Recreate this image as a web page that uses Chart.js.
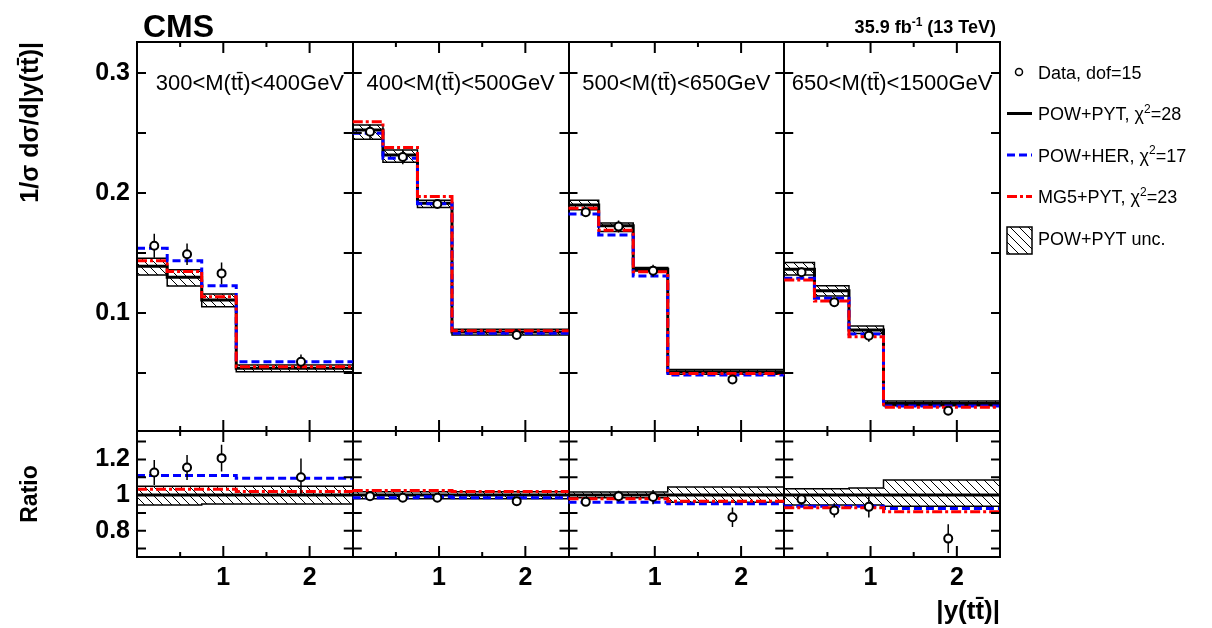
<!DOCTYPE html>
<html>
<head>
<meta charset="utf-8">
<title>CMS normalised |y(tt)| in M(tt) bins</title>
<script src="https://cdn.jsdelivr.net/npm/chart.js@4.4.1/dist/chart.umd.min.js"></script>
<style>
  html, body { margin: 0; padding: 0; background: #fff; }
  #wrap { width: 1212px; height: 628px; }
</style>
</head>
<body>
<div id="wrap"><canvas id="yttChart" width="1212" height="628"></canvas></div>
<script>
const FONT = "'Liberation Sans', Arial, Helvetica, sans-serif";

// M(tt) panels, each one has 4 bins in |y(tt)|
const massBins = ['300<M(tt\u0304)<400GeV', '400<M(tt\u0304)<500GeV', '500<M(tt\u0304)<650GeV', '650<M(tt\u0304)<1500GeV'];
const binEdges = [0, 0.35, 0.75, 1.15, 2.5];
const dataX = [0.2, 0.58, 0.98, 1.9];
const panelSpan = 2.5;

// upper pad: 1/sigma dsigma/d|y(tt)|, 16 values = 4 panels x 4 bins
const dataVal = [0.156, 0.149, 0.133, 0.0594, 0.251, 0.230, 0.1908, 0.0817, 0.184, 0.172, 0.1353, 0.0447, 0.134, 0.109, 0.081, 0.0186];
const dataErr = [0.010, 0.009, 0.009, 0.006, 0.006, 0.006, 0.003, 0.002, 0.004, 0.005, 0.005, 0.003, 0.004, 0.004, 0.005, 0.002];
const powPyt = [0.139, 0.1297, 0.1108, 0.0539, 0.2525, 0.2317, 0.1914, 0.0842, 0.190, 0.1728, 0.1364, 0.051, 0.1364, 0.1186, 0.0858, 0.0247];
const powHer = [0.154, 0.1436, 0.1228, 0.0594, 0.2497, 0.2289, 0.191, 0.0831, 0.1825, 0.165, 0.1308, 0.0483, 0.129, 0.1122, 0.0825, 0.0225];
const mg5Pyt = [0.1436, 0.1345, 0.1136, 0.0553, 0.2594, 0.238, 0.197, 0.0853, 0.1872, 0.169, 0.1344, 0.0497, 0.1275, 0.110, 0.0803, 0.0214];
const uncUp = [0.1456, 0.136, 0.1158, 0.0567, 0.2567, 0.2358, 0.194, 0.0864, 0.194, 0.175, 0.138, 0.053, 0.142, 0.1228, 0.0892, 0.0267];
const uncDown = [0.1317, 0.1225, 0.1053, 0.0511, 0.2447, 0.2256, 0.188, 0.0817, 0.186, 0.168, 0.135, 0.049, 0.1317, 0.1142, 0.083, 0.0228];

// lower pad: ratio to POW+PYT
const ratioData = [1.126, 1.154, 1.207, 1.10, 0.994, 0.985, 0.985, 0.966, 0.962, 0.994, 0.989, 0.876, 0.976, 0.914, 0.934, 0.756];
const ratioErr = [0.07, 0.07, 0.075, 0.105, 0.015, 0.02, 0.012, 0.02, 0.015, 0.03, 0.04, 0.055, 0.03, 0.04, 0.06, 0.08];
const ratioPowPyt = [1, 1, 1, 1, 1, 1, 1, 1, 1, 1, 1, 1, 1, 1, 1, 1];
const ratioPowHer = [1.11, 1.11, 1.11, 1.094, 0.985, 0.985, 0.99, 0.985, 0.96, 0.96, 0.96, 0.951, 0.938, 0.938, 0.938, 0.925];
const ratioMg5Pyt = [1.032, 1.032, 1.032, 1.02, 1.026, 1.026, 1.026, 1.02, 0.98, 0.98, 0.98, 0.966, 0.929, 0.929, 0.929, 0.906];
const ratioUncUp = [1.05, 1.05, 1.05, 1.05, 1.018, 1.018, 1.018, 1.018, 1.017, 1.017, 1.017, 1.045, 1.035, 1.035, 1.04, 1.085];
const ratioUncDown = [0.944, 0.944, 0.95, 0.95, 0.98, 0.98, 0.98, 0.98, 0.985, 0.985, 0.985, 0.96, 0.944, 0.944, 0.944, 0.938];

const xTicks = [1, 2, 2.5, 3.5, 4.5, 5, 6, 7, 7.5, 8.5, 9.5];
const yTicks = [0.1, 0.2, 0.3];
const ratioTicks = [0.8, 1, 1.2];

const legendRows = [
  {kind: 'data', text: 'Data, dof=15'},
  {kind: 'line', color: '#000', dash: [], text: 'POW+PYT, \u03c7', sup: '2', after: '=28'},
  {kind: 'line', color: '#0000ff', dash: [8, 4], text: 'POW+HER, \u03c7', sup: '2', after: '=17'},
  {kind: 'line', color: '#ff0000', dash: [10, 3, 3, 3], text: 'MG5+PYT, \u03c7', sup: '2', after: '=23'},
  {kind: 'band', text: 'POW+PYT unc.'}
];

// hatch pattern for the POW+PYT uncertainty band
function makeHatch() {
  const c = document.createElement('canvas');
  c.width = 9; c.height = 9;
  const g = c.getContext('2d');
  g.strokeStyle = '#000';
  g.lineWidth = 1;
  g.beginPath();
  g.moveTo(0, 0); g.lineTo(9, 9);
  g.moveTo(-1, 8); g.lineTo(1, 10);
  g.moveTo(8, -1); g.lineTo(10, 1);
  g.stroke();
  return document.getElementById('yttChart').getContext('2d').createPattern(c, 'repeat');
}
const hatch = makeHatch();

function steps(values) {
  const pts = [];
  for (let p = 0; p < 4; p++) {
    const off = p * panelSpan;
    for (let i = 0; i < 4; i++) pts.push({x: off + binEdges[i], y: values[p * 4 + i]});
    pts.push({x: off + binEdges[4], y: values[p * 4 + 3]});
    pts.push({x: off + binEdges[4], y: null});
  }
  return pts;
}

function markers(values) {
  const pts = [];
  for (let p = 0; p < 4; p++) {
    for (let i = 0; i < 4; i++) pts.push({x: p * panelSpan + dataX[i], y: values[p * 4 + i]});
  }
  return pts;
}

function errorBars(values, errs) {
  const pts = [];
  for (let p = 0; p < 4; p++) {
    for (let i = 0; i < 4; i++) {
      const x = p * panelSpan + dataX[i];
      const v = values[p * 4 + i], e = errs[p * 4 + i];
      pts.push({x: x, y: v - e}, {x: x, y: v + e}, {x: x, y: null});
    }
  }
  return pts;
}

function stepSet(label, values, axis, color, width, dash, order) {
  return {
    label: label, data: steps(values), yAxisID: axis,
    borderColor: color, borderWidth: width, borderDash: dash,
    backgroundColor: 'transparent', stepped: true, fill: false,
    pointRadius: 0, spanGaps: false, order: order
  };
}

function padDatasets(axis, up, down, nominal, her, mg5, vals, errs) {
  return [
    stepSet('unc up', up, axis, '#000', 1.5, [], 6),
    Object.assign(stepSet('unc down', down, axis, '#000', 1.5, [], 5), {fill: '-1', backgroundColor: hatch}),
    stepSet('POW+PYT', nominal, axis, '#000', 3, [], 4),
    stepSet('POW+HER', her, axis, '#0000ff', 3, [8, 4], 3),
    stepSet('MG5+PYT', mg5, axis, '#ff0000', 3, [10, 3, 3, 3], 2),
    {
      label: 'Data err', data: errorBars(vals, errs), yAxisID: axis,
      borderColor: '#000', borderWidth: 1.5, pointRadius: 0, spanGaps: false,
      fill: false, order: 1
    },
    {
      label: 'Data', data: markers(vals), yAxisID: axis, showLine: false,
      pointRadius: 4, pointBorderWidth: 2, pointBorderColor: '#000',
      pointBackgroundColor: '#fff', order: 0
    }
  ];
}

function drawSup(ctx, x, y, parts) {
  // parts: [text, font, dy]
  let cx = x;
  parts.forEach(function(pt) {
    ctx.font = pt[1];
    ctx.fillText(pt[0], cx, y + pt[2]);
    cx += ctx.measureText(pt[0]).width;
  });
  return cx;
}

const cmsDecor = {
  id: 'cmsDecor',
  afterDatasetsDraw(chart) {
    const {ctx, chartArea: a, scales: {x, y, yr}} = chart;
    ctx.save();
    ctx.strokeStyle = '#000';
    ctx.lineWidth = 2;
    const pads = [
      {s: y, top: y.top, bottom: y.bottom, from: 0.05, to: 0.3, step: 0.05},
      {s: yr, top: yr.top, bottom: yr.bottom, from: 0.7, to: 1.3, step: 0.1}
    ];
    for (let p = 0; p < 4; p++) {
      const left = x.getPixelForValue(p * panelSpan);
      const right = x.getPixelForValue((p + 1) * panelSpan);
      pads.forEach(function(pad) {
        ctx.beginPath();
        for (let k = 1; k <= 4; k++) {
          const px = x.getPixelForValue(p * panelSpan + k * 0.5);
          const len = k % 2 === 0 ? 11 : 5;
          ctx.moveTo(px, pad.top); ctx.lineTo(px, pad.top + len);
          ctx.moveTo(px, pad.bottom); ctx.lineTo(px, pad.bottom - len);
        }
        for (let v = pad.from; v <= pad.to + 1e-9; v += pad.step) {
          const py = pad.s.getPixelForValue(v);
          ctx.moveTo(left, py); ctx.lineTo(left + 9, py);
          ctx.moveTo(right, py); ctx.lineTo(right - 9, py);
        }
        ctx.stroke();
      });
    }
    ctx.strokeRect(a.left, a.top, a.right - a.left, a.bottom - a.top);
    ctx.beginPath();
    ctx.moveTo(a.left, yr.top); ctx.lineTo(a.right, yr.top);
    ctx.stroke();

    // mass bin labels
    ctx.fillStyle = '#000';
    ctx.font = '22px ' + FONT;
    ctx.textAlign = 'center';
    ctx.textBaseline = 'alphabetic';
    massBins.forEach(function(lbl, p) {
      ctx.fillText(lbl, x.getPixelForValue(p * panelSpan + 1.25) + (p === 0 ? 5 : 0), a.top + 48);
    });
    ctx.restore();
  },
  afterDraw(chart) {
    const {ctx, chartArea: a} = chart;
    ctx.save();
    ctx.fillStyle = '#000';
    ctx.textAlign = 'left';
    ctx.textBaseline = 'alphabetic';
    ctx.font = 'bold 32px ' + FONT;
    ctx.fillText('CMS', a.left + 6, 37);

    // lumi label, right aligned
    const lumi = [['35.9 fb', 'bold 18px ' + FONT, 0], ['-1', 'bold 12px ' + FONT, -7], [' (13 TeV)', 'bold 18px ' + FONT, 0]];
    let w = 0;
    lumi.forEach(function(pt) { ctx.font = pt[1]; w += ctx.measureText(pt[0]).width; });
    drawSup(ctx, a.right - 4 - w, 33, lumi);

    // legend
    const lx = a.right + 7, tx = a.right + 38;
    legendRows.forEach(function(row, i) {
      const cy = 74 + i * 41.5;
      ctx.strokeStyle = '#000';
      if (row.kind === 'data') {
        ctx.lineWidth = 1.5;
        ctx.fillStyle = '#fff';
        ctx.beginPath(); ctx.arc(lx + 12, cy - 2, 3.5, 0, Math.PI * 2);
        ctx.fill(); ctx.stroke();
      } else if (row.kind === 'line') {
        ctx.lineWidth = 3;
        ctx.strokeStyle = row.color;
        ctx.setLineDash(row.dash);
        ctx.beginPath(); ctx.moveTo(lx, cy - 2); ctx.lineTo(lx + 25, cy - 2); ctx.stroke();
        ctx.setLineDash([]);
      } else {
        ctx.lineWidth = 1.5;
        ctx.fillStyle = hatch;
        ctx.fillRect(lx, cy - 13, 25, 27);
        ctx.strokeRect(lx, cy - 13, 25, 27);
      }
      ctx.fillStyle = '#000';
      ctx.textBaseline = 'middle';
      const parts = [[row.text, '18px ' + FONT, 0]];
      if (row.sup) parts.push([row.sup, '12px ' + FONT, -6], [row.after, '18px ' + FONT, 0]);
      drawSup(ctx, tx, cy, parts);
    });
    ctx.restore();
  }
};

const xTickLabel = function(value) {
  const local = Math.round((value - Math.floor(value / panelSpan + 1e-9) * panelSpan) * 100) / 100;
  if (local === 1) return '1';
  if (local === 2) return '2';
  return '';
};

Chart.defaults.font.family = FONT;
Chart.defaults.color = '#000';

new Chart(document.getElementById('yttChart'), {
  type: 'line',
  data: {
    datasets: padDatasets('y', uncUp, uncDown, powPyt, powHer, mg5Pyt, dataVal, dataErr)
      .concat(padDatasets('yr', ratioUncUp, ratioUncDown, ratioPowPyt, ratioPowHer, ratioMg5Pyt, ratioData, ratioErr))
  },
  options: {
    responsive: false,
    devicePixelRatio: 1,
    animation: false,
    events: [],
    layout: { padding: { left: 0, right: 212, top: 42, bottom: 0 } },
    plugins: { legend: { display: false }, tooltip: { enabled: false } },
    scales: {
      x: {
        type: 'linear', min: 0, max: 10,
        afterBuildTicks: function(scale) { scale.ticks = xTicks.map(function(v) { return {value: v}; }); },
        afterFit: function(scale) { scale.height = 71; },
        ticks: { autoSkip: false, maxRotation: 0, padding: 6, font: { size: 25, weight: 'bold' }, callback: xTickLabel },
        grid: {
          drawTicks: false, lineWidth: 2,
          color: function(c) { return c.tick && Math.abs(c.tick.value / panelSpan - Math.round(c.tick.value / panelSpan)) < 1e-6 ? '#000' : 'rgba(0,0,0,0)'; }
        },
        border: { color: '#000', width: 2 },
        title: { display: true, text: '|y(tt\u0304)|', align: 'end', font: { size: 26, weight: 'bold' }, padding: { top: 0, bottom: 1 } }
      },
      // ratio pad listed first: stacked boxes are laid out bottom-up here
      yr: {
        type: 'linear', position: 'left', stack: 'pads', stackWeight: 126,
        min: 0.653, max: 1.359,
        afterBuildTicks: function(scale) { scale.ticks = ratioTicks.map(function(v) { return {value: v}; }); },
        afterFit: function(scale) { scale.width = 137; },
        ticks: { padding: 7, font: { size: 25, weight: 'bold' }, callback: function(v) { return v === 1 ? '1' : v.toFixed(1); } },
        grid: { display: false, drawTicks: false },
        border: { color: '#000', width: 2 },
        title: { display: true, text: 'Ratio', align: 'center', font: { size: 23, weight: 'bold' }, padding: { top: 17, bottom: 0 } }
      },
      y: {
        type: 'linear', position: 'left', stack: 'pads', stackWeight: 389,
        min: 0.0017, max: 0.3258,
        afterBuildTicks: function(scale) { scale.ticks = yTicks.map(function(v) { return {value: v}; }); },
        afterFit: function(scale) { scale.width = 137; },
        ticks: { padding: 7, font: { size: 25, weight: 'bold' }, callback: function(v) { return v.toFixed(1); } },
        grid: { display: false, drawTicks: false },
        border: { color: '#000', width: 2 },
        title: { display: true, text: '1/\u03c3 d\u03c3/d|y(tt\u0304)|', align: 'end', font: { size: 25, weight: 'bold' }, padding: { top: 16, bottom: 0 } }
      }
    }
  },
  plugins: [cmsDecor]
});
</script>
</body>
</html>
